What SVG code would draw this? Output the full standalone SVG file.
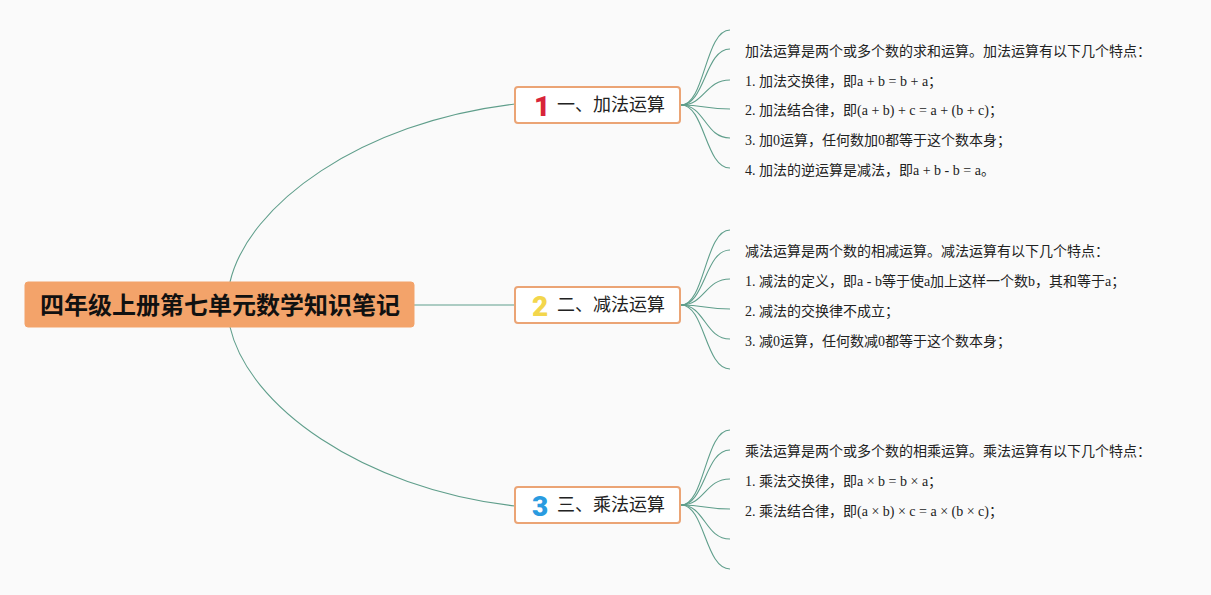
<svg xmlns="http://www.w3.org/2000/svg" width="1211" height="595" viewBox="0 0 1211 595">
<style>
.bg{fill:#fafafa}
.conn path{fill:none;stroke:#5f9e8b;stroke-width:1.1}
.root rect{fill:#f3a36a;stroke:#f3a36a}
.root text{font-family:"Noto Sans CJK SC",sans-serif;font-weight:700;font-size:24px;fill:#111;text-anchor:middle}
.topic rect{fill:#fff;stroke:#eba475;stroke-width:2}
.topic .lbl{font-family:"Noto Sans CJK SC",sans-serif;font-size:18px;fill:#222}
.topic .num{font-family:"Roboto","Liberation Sans",sans-serif;font-weight:900;font-size:28px}
.leaf text{font-family:"Liberation Serif","Noto Sans CJK SC",serif;font-size:14px;fill:#222}
</style>
<rect class="bg" x="0" y="0" width="1211" height="595"/>
<g id="connectors" class="conn">
<path d="M230,282 C248,205 360,122 515,104"/>
<path d="M414,305 L515,305"/>
<path d="M230,327 C248,405 360,488 515,506"/>
<path d="M681,105 C705,105 705,30 730,30"/>
<path d="M681,105 C705,105 705,49 730,49"/>
<path d="M681,105 C705,105 705,80 730,80"/>
<path d="M681,105 C705,105 705,109 730,109"/>
<path d="M681,105 C705,105 705,138 730,138"/>
<path d="M681,105 C705,105 705,168 730,168"/>
<path d="M681,305 C705,305 705,230 730,230"/>
<path d="M681,305 C705,305 705,250 730,250"/>
<path d="M681,305 C705,305 705,279 730,279"/>
<path d="M681,305 C705,305 705,309 730,309"/>
<path d="M681,305 C705,305 705,339 730,339"/>
<path d="M681,305 C705,305 705,369 730,369"/>
<path d="M681,505 C705,505 705,430 730,430"/>
<path d="M681,505 C705,505 705,450 730,450"/>
<path d="M681,505 C705,505 705,479 730,479"/>
<path d="M681,505 C705,505 705,509 730,509"/>
<path d="M681,505 C705,505 705,539 730,539"/>
<path d="M681,505 C705,505 705,569 730,569"/>
</g>
<g id="root" class="root">
<rect x="25" y="282" width="389" height="45" rx="3"/>
<text x="220" y="314">四年级上册第七单元数学知识笔记</text>
</g>
<g id="topic1" class="topic">
<rect x="515" y="87" width="165" height="36" rx="3"/>
<text class="num" x="534" y="116" fill="#d8243a">1</text>
<text class="lbl" x="557" y="111">一、加法运算</text>
</g>
<g id="topic2" class="topic">
<rect x="515" y="287" width="165" height="36" rx="3"/>
<text class="num" x="532" y="316" fill="#f3d64c">2</text>
<text class="lbl" x="557" y="311">二、减法运算</text>
</g>
<g id="topic3" class="topic">
<rect x="515" y="487" width="165" height="36" rx="3"/>
<text class="num" x="532" y="516" fill="#2a9be0">3</text>
<text class="lbl" x="557" y="511">三、乘法运算</text>
</g>
<g id="leaves1" class="leaf">
<text x="745" y="56">加法运算是两个或多个数的求和运算。加法运算有以下几个特点：</text>
<text x="745" y="86">1. 加法交换律，即a + b = b + a；</text>
<text x="745" y="115">2. 加法结合律，即(a + b) + c = a + (b + c)；</text>
<text x="745" y="145">3. 加0运算，任何数加0都等于这个数本身；</text>
<text x="745" y="175">4. 加法的逆运算是减法，即a + b - b = a。</text>
</g>
<g id="leaves2" class="leaf">
<text x="745" y="256">减法运算是两个数的相减运算。减法运算有以下几个特点：</text>
<text x="745" y="286">1. 减法的定义，即a - b等于使a加上这样一个数b，其和等于a；</text>
<text x="745" y="316">2. 减法的交换律不成立；</text>
<text x="745" y="346">3. 减0运算，任何数减0都等于这个数本身；</text>
</g>
<g id="leaves3" class="leaf">
<text x="745" y="456">乘法运算是两个或多个数的相乘运算。乘法运算有以下几个特点：</text>
<text x="745" y="486">1. 乘法交换律，即a × b = b × a；</text>
<text x="745" y="516">2. 乘法结合律，即(a × b) × c = a × (b × c)；</text>
</g>
</svg>
